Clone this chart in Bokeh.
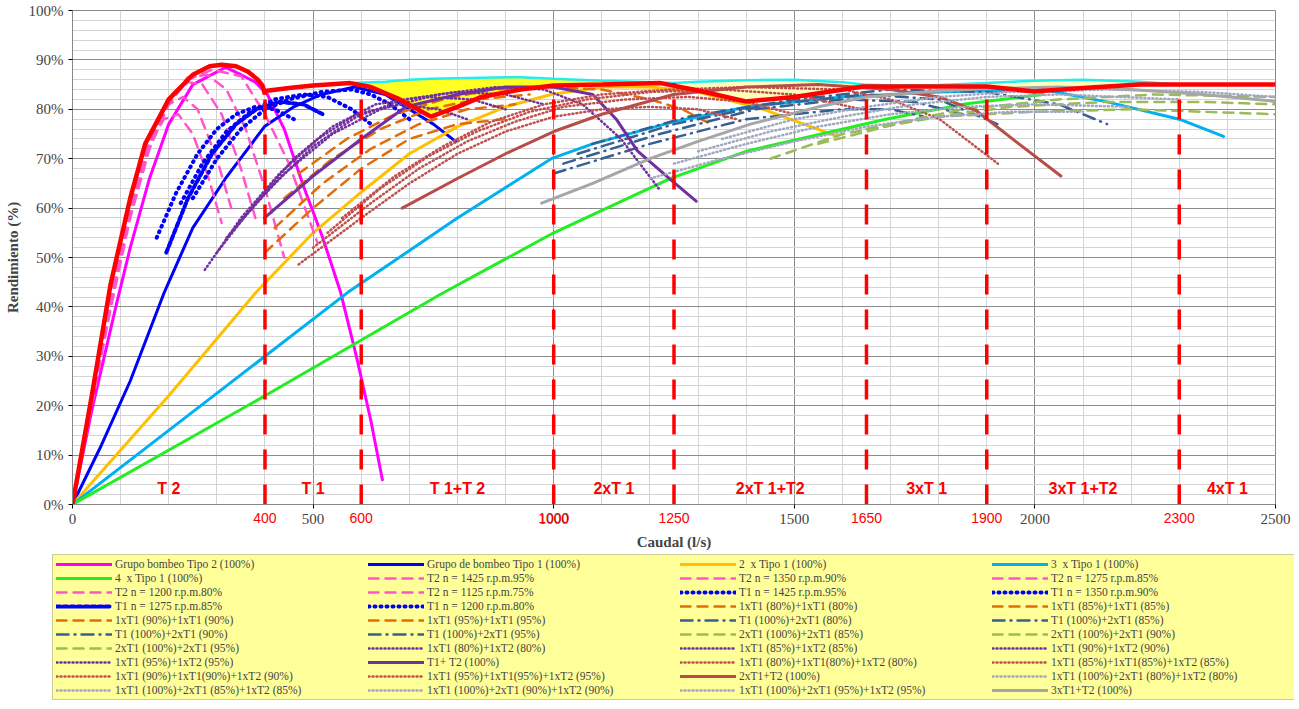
from bokeh.plotting import figure
from bokeh.layouts import column, row
from bokeh.models import (Legend, LegendItem, Label, PrintfTickFormatter, Range1d, FixedTicker,
                          LinearAxis)
from bokeh.embed import file_html
from bokeh.resources import INLINE

# ---- data (x = caudal l/s, y = rendimiento %) ----
t2_x = [0, 40, 90, 120, 160, 200, 250, 318, 350, 380, 405, 440, 478, 520, 557, 590, 620, 644]
t2_y = [0, 19, 40, 52, 66, 77, 85, 88.5, 87, 85.5, 83, 76, 65, 54, 43, 30, 17, 5]
t1_x = [0, 60, 120, 191, 250, 318, 399, 460, 517, 586, 650, 700, 750, 796]
t1_y = [0, 12, 25, 43, 56, 66, 76.5, 80.5, 83, 84.5, 83, 80, 77, 73.5]
x2_x = [0, 200, 382, 500, 597, 700, 800, 900, 995, 1100, 1200, 1300, 1436, 1520, 1590]
x2_y = [0, 22, 43, 55, 63, 71, 76.5, 80.5, 83, 84.5, 84.5, 83.5, 80, 77, 74.5]
x3_x = [0, 200, 400, 573, 800, 995, 1081, 1250, 1409, 1600, 1800, 2016, 2150, 2300, 2392]
x3_y = [0, 15, 30, 43, 58, 70, 73, 77.5, 80.6, 82.5, 83.5, 84, 81.5, 78, 74.5]
x4_x = [0, 400, 764, 1000, 1243, 1400, 1690, 1850, 2016]
x4_y = [0, 22, 42.5, 55, 66, 71.5, 78, 81, 83]

t2_95_x = [0, 40, 80, 120, 160, 200, 240, 290, 351, 400, 450, 509]
t2_95_y = [0, 20, 40, 58, 72, 81, 86, 88, 86.7, 79, 69, 53]
t2_90_x = [0, 40, 80, 120, 160, 200, 240, 280, 320, 360, 400, 440]
t2_90_y = [0, 21, 41, 59, 73, 82, 86.5, 87, 84, 76, 64, 50]
t2_85_x = [0, 40, 80, 120, 160, 200, 240, 270, 310, 350, 380]
t2_85_y = [0, 21, 41, 60, 74, 82.5, 85.5, 85, 79, 68, 58]
t2_80_x = [0, 40, 80, 120, 160, 200, 230, 260, 300, 330]
t2_80_y = [0, 22, 42, 60, 74, 81, 82.5, 80, 70, 60]
t2_75_x = [0, 40, 80, 120, 160, 190, 220, 250, 280, 310]
t2_75_y = [0, 22, 43, 61, 73, 78, 79, 75, 67, 57]

t1_95_x = [250, 300, 350, 400, 450, 517, 580, 620, 660, 700]
t1_95_y = [62, 70, 76, 80, 82, 83.5, 84, 83, 81, 78]
t1_90_x = [225, 270, 320, 370, 420, 480, 530, 580, 620]
t1_90_y = [61, 69, 75.5, 79.5, 82, 83, 82.5, 80, 77]
t1_85_x = [195, 240, 290, 340, 382, 430, 480, 520]
t1_85_y = [51, 62, 71, 77, 80, 81.5, 81, 79]
t1_80_x = [175, 215, 260, 300, 340, 380, 420, 460]
t1_80_y = [54, 63, 71, 76, 79, 80.5, 80, 78]

o80_x = [400, 500, 600, 700, 800, 900]
o80_y = [51, 60, 68, 74, 77, 78]
o85_x = [420, 520, 620, 720, 820, 920]
o85_y = [56, 65, 72, 77, 80, 81]
o90_x = [440, 540, 640, 740, 840, 950]
o90_y = [62, 70, 76, 80, 82, 83]
o95_x = [470, 570, 670, 770, 870, 980, 1100, 1200, 1268, 1326]
o95_y = [67, 74, 79, 82, 84, 84.5, 84, 82, 80, 77]

dd80_x = [1000, 1200, 1400, 1600, 1700, 1767]
dd80_y = [67, 73, 78, 80, 80, 78.6]
dd85_x = [1020, 1220, 1420, 1600, 1750, 1850]
dd85_y = [69, 75, 80, 82, 81.5, 79]
dd90_x = [1050, 1250, 1450, 1650, 1800, 1922]
dd90_y = [71, 77, 81, 83, 82, 77]
dd95_x = [1080, 1280, 1500, 1700, 1900, 2050, 2150]
dd95_y = [73, 78.5, 82, 84, 83.5, 81, 77]

g85_x = [1450, 1600, 1800, 2000, 2200, 2500]
g85_y = [70, 75, 78.5, 79.5, 80, 79]
g90_x = [1550, 1750, 1950, 2150, 2350, 2500]
g90_y = [73, 78, 80.5, 81.5, 81.5, 81]
g95_x = [1650, 1850, 2050, 2250, 2500]
g95_y = [76, 80, 82, 83, 82.5]

p80_x = [275, 350, 430, 510, 590, 680, 760, 820]
p80_y = [47.5, 58, 67, 74, 79, 81, 80, 78]
p85_x = [300, 380, 460, 540, 630, 730, 830, 900]
p85_y = [51, 61, 70, 76.5, 81, 82.5, 82, 80]
p90_x = [320, 410, 500, 590, 690, 800, 900, 980]
p90_y = [54, 64, 72.5, 78.5, 82, 83.5, 83, 81]
p95_x = [345, 440, 540, 640, 760, 880, 980, 1060, 1140, 1222]
p95_y = [57, 67, 75, 80, 83, 84.5, 84, 81, 74, 63.5]
pt_x = [399, 500, 600, 693, 800, 900, 1000, 1081, 1130, 1174, 1240, 1296]
pt_y = [58, 66.5, 74, 80.5, 83, 84.5, 84.5, 83, 78, 71.6, 66, 61.4]

r80_x = [470, 600, 700, 800, 900, 1000, 1100, 1200, 1300, 1380]
r80_y = [48.6, 58, 65, 71, 75.5, 78.5, 80, 80.5, 80, 78]
r85_x = [500, 620, 720, 820, 920, 1020, 1150, 1280, 1400, 1500]
r85_y = [52, 61, 68, 73.5, 77.5, 80.5, 82, 82.5, 81.5, 79]
r90_x = [530, 640, 740, 840, 950, 1070, 1200, 1350, 1500, 1640]
r90_y = [55, 64, 70.5, 75.5, 79.5, 82, 83.5, 84, 83, 80]
r95_x = [560, 670, 770, 870, 980, 1100, 1243, 1400, 1600, 1700, 1802, 1923]
r95_y = [58, 66.5, 72.5, 77.5, 81, 83, 84, 84.5, 84, 82, 78, 69]
b_x = [685, 800, 900, 1000, 1100, 1249, 1400, 1550, 1700, 1800, 1877, 1960, 2054]
b_y = [60, 66, 71, 75.5, 79, 83, 84.5, 85, 84, 82.5, 79.8, 73.5, 66.5]

gd80_x = [1200, 1350, 1500, 1650, 1800, 1950, 2100]
gd80_y = [66, 70, 73.5, 76.5, 78.5, 79.5, 79.5]
gd85_x = [1250, 1400, 1550, 1700, 1850, 2000, 2200]
gd85_y = [69, 73, 76.5, 79, 80.5, 81, 80.5]
gd90_x = [1300, 1450, 1600, 1750, 1900, 2050, 2300]
gd90_y = [71.5, 75.5, 78.5, 81, 82.5, 83, 82]
gd95_x = [1350, 1500, 1650, 1800, 1950, 2150, 2350, 2500]
gd95_y = [74, 78, 80.5, 82.5, 83.5, 84, 83.5, 82.5]
gs_x = [975, 1081, 1200, 1300, 1409, 1550, 1650, 1783, 1900, 2050, 2200, 2350, 2500]
gs_y = [61, 65, 70, 73.5, 77, 80.5, 82.5, 83.6, 84.2, 84.5, 84, 83, 81.6]

env_x = [0, 40, 79, 120, 151, 200, 250, 285, 310, 340, 365, 385, 395, 400, 400, 450, 500, 577, 620, 680,
         745, 800, 850, 931, 1000, 1100, 1222, 1300, 1399, 1500, 1643, 1900, 1998, 2100, 2218, 2500]
env_y = [0, 22, 44.5, 62, 73, 82, 87, 88.7, 89, 88.7, 87.6, 86, 84.8, 83, 83.7, 84.3, 84.8, 85.3, 84.5, 82,
         78.5, 80.5, 82.5, 84, 84.8, 85, 85.3, 83.8, 81.6, 82.5, 84.6, 84.6, 83.6, 84.3, 85, 85]

fill1_x = [577, 650, 700, 745, 800, 850, 931, 1000, 1100, 1222, 1250]
fill1_top = [85.3, 85.6, 86, 86.2, 86.3, 86.4, 86.5, 86.2, 85.8, 85.4, 85.3]
fill1_bot = [85.3, 83.8, 81.2, 78.5, 80.5, 82.5, 84, 84.8, 85, 85.3, 85.3]
fill2_x = [1250, 1300, 1399, 1500, 1600, 1643, 1700, 1800, 1900, 1998, 2100, 2218, 2300]
fill2_top = [85.3, 85.6, 85.9, 86, 85.5, 85, 84.8, 84.9, 85.3, 85.8, 86, 85.6, 85]
fill2_bot = [85.3, 83.8, 81.6, 82.5, 84, 84.6, 84.6, 84.6, 84.6, 83.6, 84.3, 85, 85]

limits = [400, 600, 1000, 1250, 1650, 1900, 2300]
limit_tops = [83.5, 85.3, 84.8, 85.3, 84.6, 84.6, 85]
zone_edges = [0, 400, 600, 1000, 1250, 1650, 1900, 2300, 2500]
zone_names = ["T 2", "T 1", "T 1+T 2", "2xT 1", "2xT 1+T2", "3xT 1", "3xT 1+T2", "4xT 1"]
x_ticks = [0, 500, 1000, 1500, 2000, 2500]

SOLID, DASH, DOT, DDOT, DASHDOT = "solid", "10 7", "1 5", "1 3", "12 6 1 6"

# label, xs, ys, colour, width, dash  (legend order, row by row)
series = [
    ("Grupo bombeo Tipo 2 (100%)", t2_x, t2_y, "#ff00ff", 3, SOLID),
    ("Grupo de bombeo Tipo 1 (100%)", t1_x, t1_y, "#0000ff", 3, SOLID),
    ("2  x Tipo 1 (100%)", x2_x, x2_y, "#ffc000", 3, SOLID),
    ("3  x Tipo 1 (100%)", x3_x, x3_y, "#00b0f0", 3, SOLID),
    ("4  x Tipo 1 (100%)", x4_x, x4_y, "#22ee22", 3, SOLID),
    ("T2 n = 1425 r.p.m.95%", t2_95_x, t2_95_y, "#ff55cc", 2.5, DASH),
    ("T2 n = 1350 r.p.m.90%", t2_90_x, t2_90_y, "#ff55cc", 2.5, DASH),
    ("T2 n = 1275 r.p.m.85%", t2_85_x, t2_85_y, "#ff55cc", 2.5, DASH),
    ("T2 n = 1200 r.p.m.80%", t2_80_x, t2_80_y, "#ff55cc", 2.5, DASH),
    ("T2 n = 1125 r.p.m.75%", t2_75_x, t2_75_y, "#ff55cc", 2.5, DASH),
    ("T1 n = 1425 r.p.m.95%", t1_95_x, t1_95_y, "#0000ff", 4, DOT),
    ("T1 n = 1350 r.p.m.90%", t1_90_x, t1_90_y, "#0000ff", 4, DOT),
    ("T1 n = 1275 r.p.m.85%", t1_85_x, t1_85_y, "#0000ff", 4, "4 3"),
    ("T1 n = 1200 r.p.m.80%", t1_80_x, t1_80_y, "#0000ff", 4, DOT),
    ("1xT1 (80%)+1xT1 (80%)", o80_x, o80_y, "#e36c09", 2.5, DASH),
    ("1xT1 (85%)+1xT1 (85%)", o85_x, o85_y, "#e36c09", 2.5, DASH),
    ("1xT1 (90%)+1xT1 (90%)", o90_x, o90_y, "#e36c09", 2.5, DASH),
    ("1xT1 (95%)+1xT1 (95%)", o95_x, o95_y, "#e36c09", 2.5, DASH),
    ("T1 (100%)+2xT1 (80%)", dd80_x, dd80_y, "#376092", 2.5, DASHDOT),
    ("T1 (100%)+2xT1 (85%)", dd85_x, dd85_y, "#376092", 2.5, DASHDOT),
    ("T1 (100%)+2xT1 (90%)", dd90_x, dd90_y, "#376092", 2.5, DASHDOT),
    ("T1 (100%)+2xT1 (95%)", dd95_x, dd95_y, "#376092", 2.5, DASHDOT),
    ("2xT1 (100%)+2xT1 (85%)", g85_x, g85_y, "#9bbb59", 2.5, DASH),
    ("2xT1 (100%)+2xT1 (90%)", g90_x, g90_y, "#9bbb59", 2.5, DASH),
    ("2xT1 (100%)+2xT1 (95%)", g95_x, g95_y, "#9bbb59", 2.5, DASH),
    ("1xT1 (80%)+1xT2 (80%)", p80_x, p80_y, "#7030a0", 2.5, DDOT),
    ("1xT1 (85%)+1xT2 (85%)", p85_x, p85_y, "#7030a0", 2.5, DDOT),
    ("1xT1 (90%)+1xT2 (90%)", p90_x, p90_y, "#7030a0", 2.5, DDOT),
    ("1xT1 (95%)+1xT2 (95%)", p95_x, p95_y, "#7030a0", 2.5, DDOT),
    ("T1+ T2 (100%)", pt_x, pt_y, "#7030a0", 3, SOLID),
    ("1xT1 (80%)+1xT1(80%)+1xT2 (80%)", r80_x, r80_y, "#c0504d", 2.5, DDOT),
    ("1xT1 (85%)+1xT1(85%)+1xT2 (85%)", r85_x, r85_y, "#c0504d", 2.5, DDOT),
    ("1xT1 (90%)+1xT1(90%)+1xT2 (90%)", r90_x, r90_y, "#c0504d", 2.5, DDOT),
    ("1xT1 (95%)+1xT1(95%)+1xT2 (95%)", r95_x, r95_y, "#c0504d", 2.5, DDOT),
    ("2xT1+T2 (100%)", b_x, b_y, "#b84c48", 3, SOLID),
    ("1xT1 (100%)+2xT1 (80%)+1xT2 (80%)", gd80_x, gd80_y, "#a0a8c0", 2.5, DDOT),
    ("1xT1 (100%)+2xT1 (85%)+1xT2 (85%)", gd85_x, gd85_y, "#a0a8c0", 2.5, DDOT),
    ("1xT1 (100%)+2xT1 (90%)+1xT2 (90%)", gd90_x, gd90_y, "#a0a8c0", 2.5, DDOT),
    ("1xT1 (100%)+2xT1 (95%)+1xT2 (95%)", gd95_x, gd95_y, "#a0a8c0", 2.5, DDOT),
    ("3xT1+T2 (100%)", gs_x, gs_y, "#a6a6a6", 3, SOLID),
]

FONT = "Liberation Serif"
NCOLS = 4
W = 1298

p = figure(width=W, height=552, output_backend="svg", toolbar_location=None,
           x_range=Range1d(0, 2500), y_range=Range1d(0, 100),
           min_border_left=72, min_border_right=23, min_border_top=10, min_border_bottom=0)
p.outline_line_color = "#888888"

p.xaxis.ticker = FixedTicker(ticks=x_ticks, minor_ticks=list(range(0, 2501, 100)))
p.yaxis.ticker = FixedTicker(ticks=list(range(0, 101, 10)), minor_ticks=list(range(0, 101, 2)))
p.yaxis.formatter = PrintfTickFormatter(format="%d%%")
p.yaxis.axis_label = "Rendimiento (%)"

# red limit values share the row of the black tick labels; this axis carries the title
red_axis = LinearAxis(ticker=FixedTicker(ticks=limits), axis_label="Caudal (l/s)",
                      major_label_standoff=-20, axis_line_color=None,
                      major_tick_line_color=None, minor_tick_line_color=None,
                      major_label_text_color="#ff0000", major_label_text_font="Liberation Sans",
                      major_label_text_font_size="14px", axis_label_standoff=8)
p.add_layout(red_axis, "below")

for ax in (p.xaxis[0], p.yaxis[0], red_axis):
    ax.axis_label_text_font = FONT
    ax.axis_label_text_font_style = "bold"
    ax.axis_label_text_font_size = "15px"
for ax in (p.xaxis[0], p.yaxis[0]):
    ax.major_label_text_font = FONT
    ax.major_label_text_font_size = "15px"
    ax.minor_tick_line_color = None
    ax.major_tick_out = 4
    ax.major_tick_in = 0
    ax.axis_line_color = "#888888"
p.grid.grid_line_color = "#8c8c8c"
p.grid.minor_grid_line_color = "#d4d4d4"

# filled gains between the optimum and the red operating envelope
p.varea(x=fill1_x, y1=fill1_bot, y2=fill1_top, fill_color="#ffff22")
p.varea(x=fill2_x, y1=fill2_bot, y2=fill2_top, fill_color="#ffffbb")
p.line(fill1_x, fill1_top, line_color="#22eeee", line_width=2.5)
p.line(fill2_x, fill2_top, line_color="#22eeee", line_width=2.5)

# legend sits in its own strip; it points to hidden copies of the curves
leg = figure(width=W - 4, height=148, output_backend="svg", toolbar_location=None,
             min_border=0, x_axis_location=None, y_axis_location=None)
leg.grid.visible = False
leg.outline_line_color = None

items = []
for label, xs, ys, color, width, dash in series:
    style = dict(line_color=color, line_width=width, line_dash=dash, line_cap="round")
    p.line(xs, ys, **style)
    r = leg.line(xs, ys, visible=False, **style)
    items.append(LegendItem(label=label, renderers=[r]))

p.line(env_x, env_y, line_color="#ff0000", line_width=4.5)
p.segment(x0=limits, y0=[0] * len(limits), x1=limits, y1=limit_tops,
          line_color="#ff0000", line_width=3.5, line_dash="20 15")

for i, name in enumerate(zone_names):
    mid = (zone_edges[i] + zone_edges[i + 1]) / 2
    p.add_layout(Label(x=mid, y=1.5, text=name, text_color="#ff0000", text_font="Liberation Sans",
                       text_font_style="bold", text_font_size="16px", text_align="center"))

# the legend lays its items out column by column; reorder so it reads row by row
nrows = len(items) // NCOLS
col_items = [items[r * NCOLS + c] for c in range(NCOLS) for r in range(nrows)]

legend = Legend(items=col_items, ncols=NCOLS, location=(52, 0),
                label_text_font=FONT, label_text_font_size="11.5px", label_width=251,
                label_height=12, glyph_height=12, glyph_width=56, spacing=2,
                padding=3, margin=0, label_standoff=3,
                inactive_fill_alpha=0,
                background_fill_color="#ffff99", background_fill_alpha=1,
                border_line_color="#999999")
leg.add_layout(legend)

open("out.html", "w").write(file_html(column(p, row(leg), spacing=0), INLINE))
